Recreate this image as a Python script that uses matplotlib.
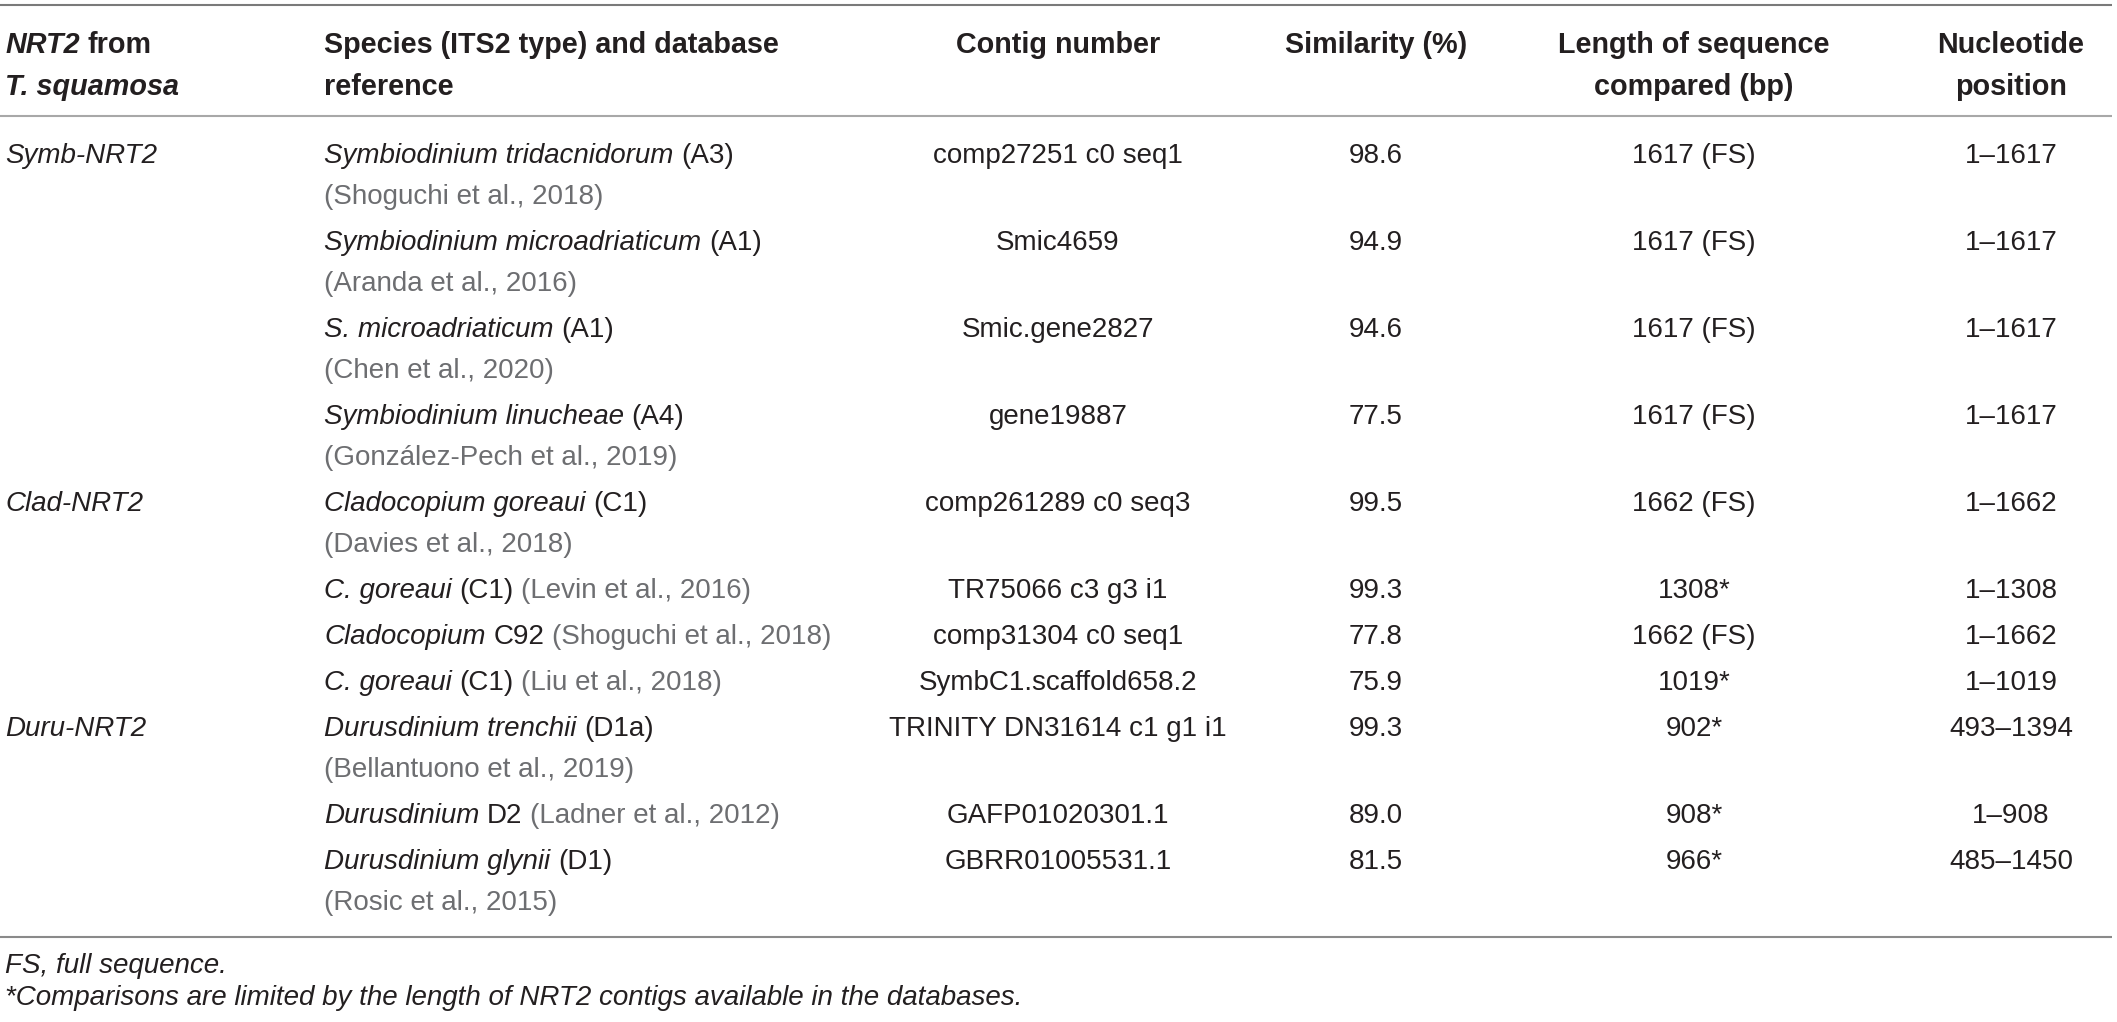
import matplotlib
matplotlib.use("Agg")
import matplotlib.pyplot as plt

# ---------------- data ----------------
header_col1 = [[("NRT2", "bi"), (" from", "b")], [("T. squamosa", "bi")]]
header_col2 = ["Species (ITS2 type) and database", "reference"]
header_contig = ["Contig number"]
header_sim = ["Similarity (%)"]
header_len = ["Length of sequence", "compared (bp)"]
header_pos = ["Nucleotide", "position"]

groups = ["Symb-NRT2", "", "", "", "Clad-NRT2", "", "", "", "Duru-NRT2", "", ""]

species = [
    [[("Symbiodinium tridacnidorum", "i"), (" (A3)", "r")], [("(Shoguchi et al., 2018)", "g")]],
    [[("Symbiodinium microadriaticum", "i"), (" (A1)", "r")], [("(Aranda et al., 2016)", "g")]],
    [[("S. microadriaticum", "i"), (" (A1)", "r")], [("(Chen et al., 2020)", "g")]],
    [[("Symbiodinium linucheae", "i"), (" (A4)", "r")], [("(González-Pech et al., 2019)", "g")]],
    [[("Cladocopium goreaui", "i"), (" (C1)", "r")], [("(Davies et al., 2018)", "g")]],
    [[("C. goreaui", "i"), (" (C1)", "r"), (" (Levin et al., 2016)", "g")]],
    [[("Cladocopium", "i"), (" C92", "r"), (" (Shoguchi et al., 2018)", "g")]],
    [[("C. goreaui", "i"), (" (C1)", "r"), (" (Liu et al., 2018)", "g")]],
    [[("Durusdinium trenchii", "i"), (" (D1a)", "r")], [("(Bellantuono et al., 2019)", "g")]],
    [[("Durusdinium", "i"), (" D2", "r"), (" (Ladner et al., 2012)", "g")]],
    [[("Durusdinium glynii", "i"), (" (D1)", "r")], [("(Rosic et al., 2015)", "g")]],
]

contigs = ["comp27251 c0 seq1", "Smic4659", "Smic.gene2827", "gene19887",
           "comp261289 c0 seq3", "TR75066 c3 g3 i1", "comp31304 c0 seq1",
           "SymbC1.scaffold658.2", "TRINITY DN31614 c1 g1 i1",
           "GAFP01020301.1", "GBRR01005531.1"]
similarity = [98.6, 94.9, 94.6, 77.5, 99.5, 99.3, 77.8, 75.9, 99.3, 89.0, 81.5]
lengths = ["1617 (FS)", "1617 (FS)", "1617 (FS)", "1617 (FS)", "1662 (FS)",
           "1308*", "1662 (FS)", "1019*", "902*", "908*", "966*"]
positions = ["1–1617", "1–1617", "1–1617", "1–1617", "1–1662", "1–1308",
             "1–1662", "1–1019", "493–1394", "1–908", "485–1450"]

footnotes = ["FS, full sequence.",
             "*Comparisons are limited by the length of NRT2 contigs available in the databases."]

# ---------------- layout ----------------
W, H = 2117, 1022
FONT = "Liberation Sans"
FS = 20.0          # body size (pt)
HFS = 20.7         # header size (pt)
DARK = "#231f20"
GREY = "#6d6e71"

X_COL1, X_COL2 = 5, 324
X_CONTIG, X_SIM, X_LEN, X_POS = 1058, 1376, 1694, 2011

fig = plt.figure(figsize=(W / 100, H / 100), dpi=100)
ax = fig.add_axes([0, 0, 1, 1])
ax.set_xlim(0, W)
ax.set_ylim(H, 0)
ax.axis("off")
renderer = fig.canvas.get_renderer()

STYLE = {
    "i": dict(fontstyle="italic", fontweight="normal", color=DARK),
    "r": dict(fontstyle="normal", fontweight="normal", color=DARK),
    "g": dict(fontstyle="normal", fontweight="normal", color=GREY),
    "b": dict(fontstyle="normal", fontweight="bold", color=DARK),
    "bi": dict(fontstyle="italic", fontweight="bold", color=DARK),
}


def draw_runs(x, y, runs, size):
    space = 0.278 * size * 100 / 72
    for txt, kind in runs:
        lead = len(txt) - len(txt.lstrip(" "))
        x += lead * space
        t = ax.text(x, y, txt.strip(" "), fontsize=size, family=FONT,
                    ha="left", va="baseline", **STYLE[kind])
        bb = t.get_window_extent(renderer)
        x += bb.width


def ctext(x, y, s, size=FS, **kw):
    ax.text(x, y, s, fontsize=size, family=FONT, ha="center", va="baseline",
            color=kw.pop("color", DARK), **kw)


BASE = 10  # center -> baseline offset (px)

# rules
ax.plot([0, W - 5], [5, 5], color="#7a7a7a", lw=1.5, solid_capstyle="butt")
ax.plot([0, W - 5], [116, 116], color="#a8a8a8", lw=1.5, solid_capstyle="butt")
ax.plot([0, W - 5], [937, 937], color="#8a8a8a", lw=1.5, solid_capstyle="butt")

# header
hy = [43, 85]
for i, runs in enumerate(header_col1):
    draw_runs(X_COL1, hy[i] + BASE, runs, HFS)
for i, s in enumerate(header_col2):
    draw_runs(X_COL2, hy[i] + BASE, [(s, "b")], HFS)
for col, x in ((header_contig, X_CONTIG), (header_sim, X_SIM),
               (header_len, X_LEN), (header_pos, X_POS)):
    for i, s in enumerate(col):
        ctext(x, hy[i] + BASE, s, size=HFS, fontweight="bold")

# body
y = 153
WITHIN, BETWEEN = 41, 46
for k in range(len(species)):
    if groups[k]:
        draw_runs(X_COL1, y + BASE, [(groups[k], "i")], FS)
    for j, line in enumerate(species[k]):
        draw_runs(X_COL2, y + j * WITHIN + BASE, line, FS)
    ctext(X_CONTIG, y + BASE, contigs[k])
    ctext(X_SIM, y + BASE, f"{similarity[k]:.1f}")
    ctext(X_LEN, y + BASE, lengths[k])
    ctext(X_POS, y + BASE, positions[k])
    y += (len(species[k]) - 1) * WITHIN + BETWEEN

# footnotes
for i, s in enumerate(footnotes):
    draw_runs(X_COL1, [963, 995][i] + BASE, [(s, "i")], FS)

fig.savefig("out.png", dpi=100, facecolor="white")
